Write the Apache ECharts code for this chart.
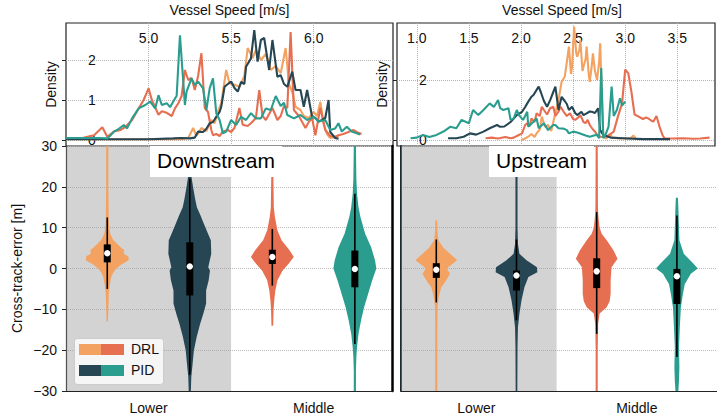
<!DOCTYPE html>
<html><head><meta charset="utf-8">
<script src="https://cdn.jsdelivr.net/npm/echarts@6/dist/echarts.min.js"></script>
<style>html,body{margin:0;padding:0;background:#fff}#c{width:717px;height:416px}</style>
</head><body><div id="c"></div><script>
// ---------------- data ----------------
const regions = ['Downstream', 'Upstream'];
const categories = ['Lower', 'Middle'];
const methods = ['DRL', 'PID'];

const dsSpeedTicks = [5.0, 5.5, 6.0];
const usSpeedTicks = [1.0, 1.5, 2.0, 2.5, 3.0, 3.5];
const dsDensityTicks = [0, 1, 2];
const usDensityTicks = [0, 2];
const errTicks = [-30, -20, -10, 0, 10, 20, 30];

// density curves  [speed, density]
const dsDrlLower = [[4.5,0.02],[4.8,0.02],[5.0,0.02],[5.2,0.02],[5.24,0.05],[5.27,0.3],[5.29,0.1],[5.32,0.3],[5.35,0.22],[5.38,0.5],[5.4,0.42],[5.42,0.71],[5.44,0.92],[5.47,1.75],[5.49,1.42],[5.52,1.38],[5.55,1.33],[5.58,1.6],[5.6,2.3],[5.63,2.05],[5.65,2.25],[5.68,2.0],[5.71,2.15],[5.74,1.75],[5.77,1.85],[5.8,1.67],[5.83,2.3],[5.85,1.4],[5.87,1.2],[5.89,0.83],[5.92,0.75],[5.94,0.6],[5.97,0.55],[6.0,0.7],[6.02,0.6],[6.04,0.95],[6.06,0.4],[6.08,0.15],[6.1,0.05],[6.15,0.08]];
const dsDrlMiddle = [[4.5,0.04],[4.6,0.05],[4.63,0.08],[4.67,0.12],[4.72,0.32],[4.75,0.08],[4.79,0.21],[4.83,0.25],[4.86,0.33],[4.9,0.5],[4.94,0.79],[4.97,1.0],[5.0,1.29],[5.02,1.0],[5.06,0.63],[5.08,0.72],[5.11,0.68],[5.14,0.6],[5.16,0.79],[5.18,0.92],[5.2,1.1],[5.22,1.75],[5.24,1.5],[5.26,1.55],[5.28,1.25],[5.3,1.6],[5.32,2.17],[5.34,0.8],[5.36,0.7],[5.38,0.25],[5.39,0.12],[5.41,0.15],[5.43,0.1],[5.45,0.21],[5.48,0.25],[5.5,0.2],[5.52,0.3],[5.55,0.8],[5.57,0.38],[5.6,0.35],[5.62,0.42],[5.65,0.55],[5.67,1.25],[5.69,0.6],[5.71,0.5],[5.73,0.65],[5.75,0.8],[5.78,0.5],[5.8,0.6],[5.82,0.85],[5.84,0.8],[5.86,2.7],[5.88,0.75],[5.91,0.6],[5.93,0.45],[5.95,0.3],[5.97,0.45],[5.99,0.55],[6.01,0.12],[6.04,0.8],[6.07,0.25],[6.1,0.1],[6.13,0.08],[6.15,0.12],[6.18,0.15],[6.21,0.2],[6.24,0.25],[6.27,0.18],[6.29,0.15]];
const dsPidLower = [[4.5,0.02],[4.8,0.02],[5.0,0.02],[5.15,0.04],[5.2,0.05],[5.25,0.04],[5.28,0.06],[5.3,0.21],[5.33,0.2],[5.35,0.28],[5.37,0.42],[5.39,0.45],[5.41,0.58],[5.43,0.7],[5.44,0.83],[5.46,1.33],[5.48,1.4],[5.5,1.46],[5.52,1.3],[5.54,1.21],[5.56,1.45],[5.58,1.4],[5.59,1.83],[5.62,2.04],[5.64,2.75],[5.66,1.96],[5.68,2.5],[5.7,2.55],[5.73,1.75],[5.75,2.5],[5.78,1.58],[5.8,1.62],[5.82,1.4],[5.84,1.33],[5.87,1.71],[5.89,1.25],[5.92,1.25],[5.94,0.83],[5.96,1.25],[5.99,0.58],[6.01,0.55],[6.03,0.46],[6.05,0.5],[6.07,0.55],[6.09,1.0],[6.1,0.2],[6.13,0.05],[6.15,0.03]];
const dsPidMiddle = [[4.5,0.05],[4.6,0.05],[4.7,0.05],[4.75,0.04],[4.77,0.12],[4.79,0.21],[4.82,0.28],[4.85,0.375],[4.87,0.29],[4.9,0.54],[4.94,0.79],[4.98,0.875],[5.01,0.96],[5.04,0.79],[5.06,1.12],[5.08,0.875],[5.11,0.92],[5.13,0.82],[5.16,1.04],[5.17,1.1],[5.19,2.62],[5.22,0.875],[5.23,1.21],[5.26,1.54],[5.28,1.375],[5.3,1.46],[5.33,1.29],[5.35,0.75],[5.37,1.29],[5.39,1.54],[5.41,0.67],[5.43,0.5],[5.45,0.17],[5.47,0.21],[5.5,0.5],[5.53,0.375],[5.56,0.58],[5.59,0.5],[5.62,0.67],[5.65,0.54],[5.68,0.54],[5.71,0.79],[5.74,0.75],[5.77,1.1],[5.8,0.85],[5.82,0.93],[5.84,0.625],[5.88,0.54],[5.92,0.625],[5.96,0.5],[6.0,0.58],[6.03,0.46],[6.07,0.5],[6.1,0.25],[6.13,0.29],[6.15,0.42],[6.17,0.21],[6.2,0.33],[6.23,0.21],[6.26,0.17],[6.28,0.14]];

const usDrlLower = [[2.0,0.0],[2.04,0.05],[2.07,0.11],[2.1,0.2],[2.13,0.1],[2.15,0.22],[2.18,0.35],[2.2,0.78],[2.23,0.44],[2.26,0.5],[2.29,0.3],[2.31,0.6],[2.33,0.89],[2.36,1.33],[2.39,1.94],[2.42,2.11],[2.44,2.6],[2.46,3.11],[2.48,2.2],[2.49,2.44],[2.51,3.78],[2.53,2.9],[2.54,2.78],[2.56,3.0],[2.57,3.33],[2.59,2.3],[2.6,2.44],[2.62,2.7],[2.63,3.11],[2.65,2.2],[2.66,1.94],[2.68,2.5],[2.69,2.89],[2.71,2.3],[2.73,2.0],[2.75,2.6],[2.76,3.22],[2.78,1.0],[2.79,0.11],[2.82,0.05],[2.85,0.2],[2.88,0.08],[2.95,0.05],[3.05,0.05],[3.08,0.15],[3.1,0.05]];
const usDrlMiddle = [[1.66,0.06],[1.72,0.08],[1.78,0.05],[1.85,0.1],[1.9,0.06],[1.93,0.08],[1.97,0.15],[2.01,0.22],[2.04,0.5],[2.06,0.56],[2.08,0.45],[2.1,0.72],[2.13,0.6],[2.15,0.89],[2.18,0.8],[2.2,1.11],[2.22,1.0],[2.25,0.85],[2.28,1.06],[2.31,1.11],[2.33,0.8],[2.36,0.95],[2.38,1.11],[2.41,0.94],[2.44,0.8],[2.47,0.89],[2.5,0.7],[2.52,0.67],[2.55,0.75],[2.57,0.83],[2.6,0.6],[2.62,0.56],[2.64,0.67],[2.66,0.5],[2.69,0.35],[2.71,0.28],[2.73,0.17],[2.76,0.11],[2.8,0.1],[2.84,0.15],[2.89,0.28],[2.93,0.78],[2.97,1.22],[3.0,2.35],[3.03,2.22],[3.06,1.6],[3.09,0.85],[3.13,0.78],[3.17,0.7],[3.2,0.75],[3.22,0.72],[3.25,0.65],[3.27,0.61],[3.3,0.8],[3.33,0.44],[3.36,0.15],[3.38,0.05],[3.45,0.05],[3.56,0.06],[3.65,0.04],[3.72,0.05],[3.81,0.08]];
const usPidLower = [[1.3,0.06],[1.38,0.06],[1.45,0.11],[1.51,0.22],[1.57,0.18],[1.64,0.28],[1.7,0.39],[1.77,0.5],[1.8,0.44],[1.84,0.45],[1.9,0.6],[1.96,0.83],[2.01,0.94],[2.04,1.1],[2.07,1.28],[2.1,1.44],[2.12,1.5],[2.15,1.67],[2.17,1.78],[2.19,1.6],[2.22,1.3],[2.25,1.11],[2.28,1.33],[2.31,1.6],[2.33,1.78],[2.36,1.0],[2.39,1.44],[2.42,1.3],[2.44,1.2],[2.46,1.0],[2.49,1.11],[2.52,0.9],[2.54,0.83],[2.58,0.94],[2.6,0.83],[2.63,0.89],[2.66,0.95],[2.68,0.94],[2.71,0.9],[2.74,1.06],[2.76,0.33],[2.79,0.17],[2.86,0.08],[2.98,0.06],[3.17,0.03],[3.43,0.03]];
const usPidMiddle = [[0.94,0.06],[1.0,0.08],[1.06,0.17],[1.12,0.1],[1.19,0.17],[1.26,0.29],[1.32,0.44],[1.38,0.39],[1.43,0.67],[1.5,0.56],[1.54,1.0],[1.59,0.83],[1.64,1.0],[1.7,1.22],[1.74,1.1],[1.78,1.33],[1.8,1.06],[1.83,1.0],[1.88,1.06],[1.9,0.67],[1.93,0.72],[1.96,1.0],[1.98,0.83],[2.02,0.67],[2.06,0.94],[2.07,0.44],[2.12,0.61],[2.15,0.72],[2.17,0.39],[2.22,0.56],[2.26,0.33],[2.31,0.5],[2.33,0.5],[2.36,0.39],[2.41,0.38],[2.44,0.33],[2.46,0.22],[2.5,0.28],[2.54,0.25],[2.58,0.2],[2.62,0.15],[2.66,0.11],[2.7,0.15],[2.73,0.17],[2.75,0.06],[2.77,2.4],[2.79,0.06],[2.81,0.17],[2.84,0.44],[2.87,1.78],[2.89,0.8],[2.92,1.0],[2.95,1.39],[2.97,1.15],[3.0,1.28]];

// violin profiles [cross-track error, relative density]
const vDsLowerDrl = [[30,0.05],[20,0.05],[12,0.07],[10,0.09],[8.5,0.14],[7,0.28],[6,0.47],[5,0.66],[4.5,0.8],[4,0.76],[3.5,0.8],[3,0.98],[2,1.0],[1,0.66],[0,0.42],[-1,0.28],[-2,0.19],[-4,0.12],[-6,0.07],[-10,0.05],[-13,0.03]];
const vDsLowerPid = [[30,0.06],[25,0.07],[22.4,0.08],[20,0.15],[17,0.25],[15,0.33],[13,0.5],[10.9,0.66],[8.5,0.85],[6.9,0.98],[3.6,1.0],[0.3,0.86],[-0.5,0.94],[-2.1,0.9],[-2.9,0.88],[-5.4,0.76],[-8.6,0.76],[-11.1,0.63],[-13.6,0.48],[-16.8,0.32],[-20.1,0.19],[-23.4,0.13],[-26.6,0.07],[-30,0.05]];
const vDsMiddleDrl = [[22.4,0.05],[15,0.07],[12.6,0.12],[9.3,0.24],[6.9,0.43],[4.4,0.81],[2.8,1.0],[1.1,0.75],[-0.5,0.48],[-2.9,0.24],[-5.4,0.14],[-7.8,0.09],[-10,0.06],[-14,0.04]];
const vDsMiddlePid = [[30,0.05],[22,0.07],[18.3,0.1],[15,0.17],[12.6,0.26],[8.5,0.48],[5.2,0.76],[2,0.94],[0,1.0],[-2.9,0.81],[-6.2,0.62],[-9.5,0.43],[-12.7,0.29],[-16,0.17],[-19.3,0.1],[-21.7,0.07],[-25,0.05],[-30,0.05]];
const vUsLowerDrl = [[11.8,0.04],[9,0.06],[6.9,0.1],[5,0.35],[3.6,0.66],[2,1.0],[0.7,0.66],[0,0.5],[-1.3,0.66],[-2.9,0.48],[-4.6,0.24],[-7,0.12],[-9.5,0.06],[-15,0.05],[-30,0.05]];
const vUsLowerPid = [[30,0.05],[10,0.05],[6,0.07],[3.6,0.14],[2,0.48],[0.3,0.98],[-0.9,1.0],[-2.1,0.57],[-4.6,0.38],[-7.8,0.24],[-11.1,0.14],[-14.4,0.07],[-19,0.05],[-30,0.04]];
const vUsMiddleDrl = [[30,0.05],[16,0.06],[13.4,0.07],[10,0.14],[8.5,0.24],[6.9,0.48],[4.4,0.81],[2.4,1.0],[0.3,0.71],[-2.9,0.67],[-6.2,0.67],[-8,0.62],[-9.5,0.48],[-11,0.14],[-13.6,0.07],[-20,0.05],[-30,0.05]];
const vUsMiddlePid = [[17.3,0.05],[15,0.07],[6.9,0.12],[3.6,0.33],[1.1,0.81],[0,1.0],[-1.3,0.67],[-3.8,0.38],[-6.2,0.29],[-9.5,0.19],[-14.4,0.14],[-19.3,0.1],[-24.2,0.12],[-27.5,0.1],[-30,0.07]];

// box stats [whisker low, q1, median, q3, whisker high]
const bDsLowerDrl = [-5, 1.5, 3.75, 5.9, 12.5];
const bDsLowerPid = [-26, -6.6, 0.5, 6.4, 22];
const bDsMiddleDrl = [-4.2, 1.1, 2.8, 4.6, 9.7];
const bDsMiddlePid = [-18.5, -4.6, -0.1, 4.4, 18.3];
const bUsLowerDrl = [-8.3, -2.3, -0.3, 1.3, 7.1];
const bUsLowerPid = [-12.7, -5.4, -1.7, -0.5, 7.1];
const bUsMiddleDrl = [-16, -4.8, -0.7, 2.5, 13.8];
const bUsMiddlePid = [-21.7, -8.7, -1.9, -0.1, 13];

// ---------------- styles ----------------
const COLORS = {DRL: ['#F4A261', '#E76F51'], PID: ['#264653', '#2A9D8F']};
const FONT = 'Liberation Sans, Arial, Helvetica, sans-serif';
const DODGE = 0.25, HALF = 0.13, BOXW = 7;
const ERR_MIN = -30, ERR_MAX = 30;
const minus = v => String(v).replace('-', '\u2212');
const txt = {color: '#111', fontSize: 14, fontFamily: FONT};

const violinSets = [
  [ // downstream
    {cat:0, m:0, prof:vDsLowerDrl, box:bDsLowerDrl},
    {cat:0, m:1, prof:vDsLowerPid, box:bDsLowerPid},
    {cat:1, m:0, prof:vDsMiddleDrl, box:bDsMiddleDrl},
    {cat:1, m:1, prof:vDsMiddlePid, box:bDsMiddlePid}
  ],
  [ // upstream
    {cat:0, m:0, prof:vUsLowerDrl, box:bUsLowerDrl},
    {cat:0, m:1, prof:vUsLowerPid, box:bUsLowerPid},
    {cat:1, m:0, prof:vUsMiddleDrl, box:bUsMiddleDrl},
    {cat:1, m:1, prof:vUsMiddlePid, box:bUsMiddlePid}
  ]
];

function violinSeries(items, xi, yi) {
  return {
    type: 'custom', xAxisIndex: xi, yAxisIndex: yi, z: 3, clip: true,
    data: items.map(it => [it.cat + (it.m === 0 ? -DODGE : DODGE), it.box[2]]),
    encode: {x: 0, y: 1},
    renderItem: function (params, api) {
      const it = items[params.dataIndex];
      const cx = api.value(0);
      const color = COLORS[methods[it.m]][it.cat];
      const r = it.prof.map(p => api.coord([cx + p[1] * HALF, p[0]]));
      const l = it.prof.slice().reverse().map(p => api.coord([cx - p[1] * HALF, p[0]]));
      const wTop = api.coord([cx, it.box[4]]), wBot = api.coord([cx, it.box[0]]);
      const q3 = api.coord([cx, it.box[3]]), q1 = api.coord([cx, it.box[1]]);
      const med = api.coord([cx, it.box[2]]);
      return {type: 'group', children: [
        {type: 'polygon', shape: {points: r.concat(l)}, style: {fill: color}},
        {type: 'line', shape: {x1: wTop[0], y1: wTop[1], x2: wBot[0], y2: wBot[1]}, style: {stroke: '#000', lineWidth: 1.6}},
        {type: 'rect', shape: {x: q3[0] - BOXW / 2, y: q3[1], width: BOXW, height: q1[1] - q3[1]}, style: {fill: '#000'}},
        {type: 'circle', shape: {cx: med[0], cy: med[1], r: 3.2}, style: {fill: '#fff'}}
      ]};
    }
  };
}

function bandSeries(xi, yi) {
  return {
    type: 'custom', xAxisIndex: xi, yAxisIndex: yi, z: 1,
    data: [[0, 0]], encode: {x: 0, y: 1},
    renderItem: function (params, api) {
      const c = api.value(0);
      const p0 = api.coord([c - 0.5, ERR_MAX]), p1 = api.coord([c + 0.5, ERR_MIN]);
      const cs = params.coordSys;
      const rect = echarts.graphic.clipRectByRect(
        {x: p0[0], y: p0[1], width: p1[0] - p0[0], height: p1[1] - p0[1]},
        {x: cs.x, y: cs.y, width: cs.width, height: cs.height});
      return rect && {type: 'rect', shape: rect, style: {fill: 'rgba(150,150,150,0.42)'}};
    }
  };
}

function densityLine(data, color, xi, yi) {
  return {type: 'line', data: data, xAxisIndex: xi, yAxisIndex: yi, showSymbol: false, symbol: 'none',
    lineStyle: {color: color, width: 2.1}, itemStyle: {color: color}, z: 2, clip: true, silent: true};
}

const dotted = {show: true, lineStyle: {type: 'dotted', color: '#b3b3b3', width: 1}};
const tick = (vals, len) => ({show: true, inside: false, length: len, customValues: vals, lineStyle: {color: '#222', width: 1}});
const noLine = {show: false, onZero: false};
const axLine = (color, width) => ({show: true, onZero: false, lineStyle: {color: color, width: width}});

const option = {
  animation: false,
  backgroundColor: '#fff',
  textStyle: {fontFamily: FONT},
  title: [
    {text: regions[0], left: 150, top: 146, backgroundColor: '#fff', padding: [4, 7, 6, 7],
     textStyle: {fontSize: 21, fontWeight: 'normal', color: '#000', fontFamily: FONT}},
    {text: regions[1], left: 489, top: 146, backgroundColor: '#fff', padding: [4, 7, 6, 7],
     textStyle: {fontSize: 21, fontWeight: 'normal', color: '#000', fontFamily: FONT}}
  ],
  grid: [
    {left: 66, top: 23, width: 327, height: 123, show: true, borderColor: '#222', borderWidth: 1.2, backgroundColor: 'transparent'},
    {left: 397, top: 23, width: 318, height: 123, show: true, borderColor: '#222', borderWidth: 1.2, backgroundColor: 'transparent'},
    {left: 66, top: 146, width: 326, height: 245},
    {left: 401, top: 146, width: 325, height: 245}
  ],
  xAxis: [
    {gridIndex: 0, type: 'value', position: 'top', min: 4.5, max: 6.48,
     name: 'Vessel Speed [m/s]', nameLocation: 'middle', nameGap: 6, nameTextStyle: txt,
     axisLine: noLine, axisTick: {show: false, customValues: dsSpeedTicks},
     axisLabel: Object.assign({inside: true, margin: 8, customValues: dsSpeedTicks, formatter: v => v.toFixed(1)}, txt),
     splitLine: dotted},
    {gridIndex: 1, type: 'value', position: 'top', min: 0.81, max: 3.862,
     name: 'Vessel Speed [m/s]', nameLocation: 'middle', nameGap: 6,
     nameTextStyle: Object.assign({padding: [0, 0, 0, 12]}, txt),
     axisLine: noLine, axisTick: {show: false, customValues: usSpeedTicks},
     axisLabel: Object.assign({inside: true, margin: 8, customValues: usSpeedTicks, formatter: v => v.toFixed(1)}, txt),
     splitLine: dotted},
    {gridIndex: 2, type: 'value', position: 'bottom', min: -0.5, max: 1.475,
     axisLine: axLine('#222', 1.2), axisTick: {show: false},
     axisLabel: Object.assign({margin: 10, customValues: [0, 1], formatter: v => categories[Math.round(v)]}, txt),
     splitLine: {show: false}},
    {gridIndex: 3, type: 'value', position: 'bottom', min: -0.47, max: 1.5,
     axisLine: axLine('#222', 1.2), axisTick: {show: false},
     axisLabel: Object.assign({margin: 10, customValues: [0, 1], formatter: v => categories[Math.round(v)]}, txt),
     splitLine: {show: false}}
  ],
  yAxis: [
    {gridIndex: 0, type: 'value', position: 'left', min: -0.15, max: 2.925,
     name: 'Density', nameLocation: 'middle', nameGap: 8, nameTextStyle: txt,
     axisLine: noLine, axisTick: tick(dsDensityTicks, 4),
     axisLabel: Object.assign({inside: true, margin: 22, customValues: dsDensityTicks}, txt),
     splitLine: dotted},
    {gridIndex: 1, type: 'value', position: 'left', min: -0.2, max: 3.9,
     name: 'Density', nameLocation: 'middle', nameGap: 8, nameTextStyle: txt,
     axisLine: noLine, axisTick: tick(usDensityTicks, 4),
     axisLabel: Object.assign({inside: true, margin: 22, customValues: usDensityTicks}, txt),
     splitLine: dotted},
    {gridIndex: 2, type: 'value', position: 'left', min: ERR_MIN, max: ERR_MAX,
     name: 'Cross-track-error [m]', nameLocation: 'middle', nameGap: 42, nameTextStyle: txt,
     axisLine: axLine('#222', 1.2), axisTick: tick(errTicks, 4),
     axisLabel: Object.assign({margin: 9, customValues: errTicks, formatter: minus}, txt),
     splitLine: {show: true, lineStyle: {type: 'dotted', color: '#bdbdbd', width: 1}}},
    {gridIndex: 2, type: 'value', position: 'right', min: ERR_MIN, max: ERR_MAX,
     axisLine: axLine('#000', 2.5), axisTick: {show: false},
     axisLabel: {show: false}, splitLine: {show: false}},
    {gridIndex: 3, type: 'value', position: 'left', min: ERR_MIN, max: ERR_MAX,
     axisLine: axLine('#1b2a30', 2), axisTick: {show: false, customValues: errTicks},
     axisLabel: {show: false, customValues: errTicks},
     splitLine: {show: true, lineStyle: {type: 'dotted', color: '#bdbdbd', width: 1}}}
  ],
  series: [
    densityLine(dsDrlLower, COLORS.DRL[0], 0, 0),
    densityLine(dsDrlMiddle, COLORS.DRL[1], 0, 0),
    densityLine(dsPidLower, COLORS.PID[0], 0, 0),
    densityLine(dsPidMiddle, COLORS.PID[1], 0, 0),
    densityLine(usDrlLower, COLORS.DRL[0], 1, 1),
    densityLine(usDrlMiddle, COLORS.DRL[1], 1, 1),
    densityLine(usPidLower, COLORS.PID[0], 1, 1),
    densityLine(usPidMiddle, COLORS.PID[1], 1, 1),
    bandSeries(2, 2),
    bandSeries(3, 4),
    violinSeries(violinSets[0], 2, 2),
    violinSeries(violinSets[1], 3, 4)
  ],
  graphic: [
    {type: 'rect', left: 74, top: 338, z: 100, shape: {width: 89, height: 46, r: 3},
     style: {fill: 'rgba(255,255,255,0.8)', stroke: '#cccccc', lineWidth: 1}},
    {type: 'rect', left: 79, top: 344, z: 101, shape: {width: 22, height: 11}, style: {fill: COLORS.DRL[0]}},
    {type: 'rect', left: 101, top: 344, z: 101, shape: {width: 23, height: 11}, style: {fill: COLORS.DRL[1]}},
    {type: 'rect', left: 79, top: 365, z: 101, shape: {width: 22, height: 11}, style: {fill: COLORS.PID[0]}},
    {type: 'rect', left: 101, top: 365, z: 101, shape: {width: 23, height: 11}, style: {fill: COLORS.PID[1]}},
    {type: 'text', left: 131, top: 342, z: 101, style: {text: methods[0], fill: '#111', font: '14px ' + FONT}},
    {type: 'text', left: 131, top: 363, z: 101, style: {text: methods[1], fill: '#111', font: '14px ' + FONT}}
  ]
};

const chart = echarts.init(document.getElementById('c'), null, {renderer: 'svg', width: 717, height: 416});
chart.setOption(option);
</script></body></html>
